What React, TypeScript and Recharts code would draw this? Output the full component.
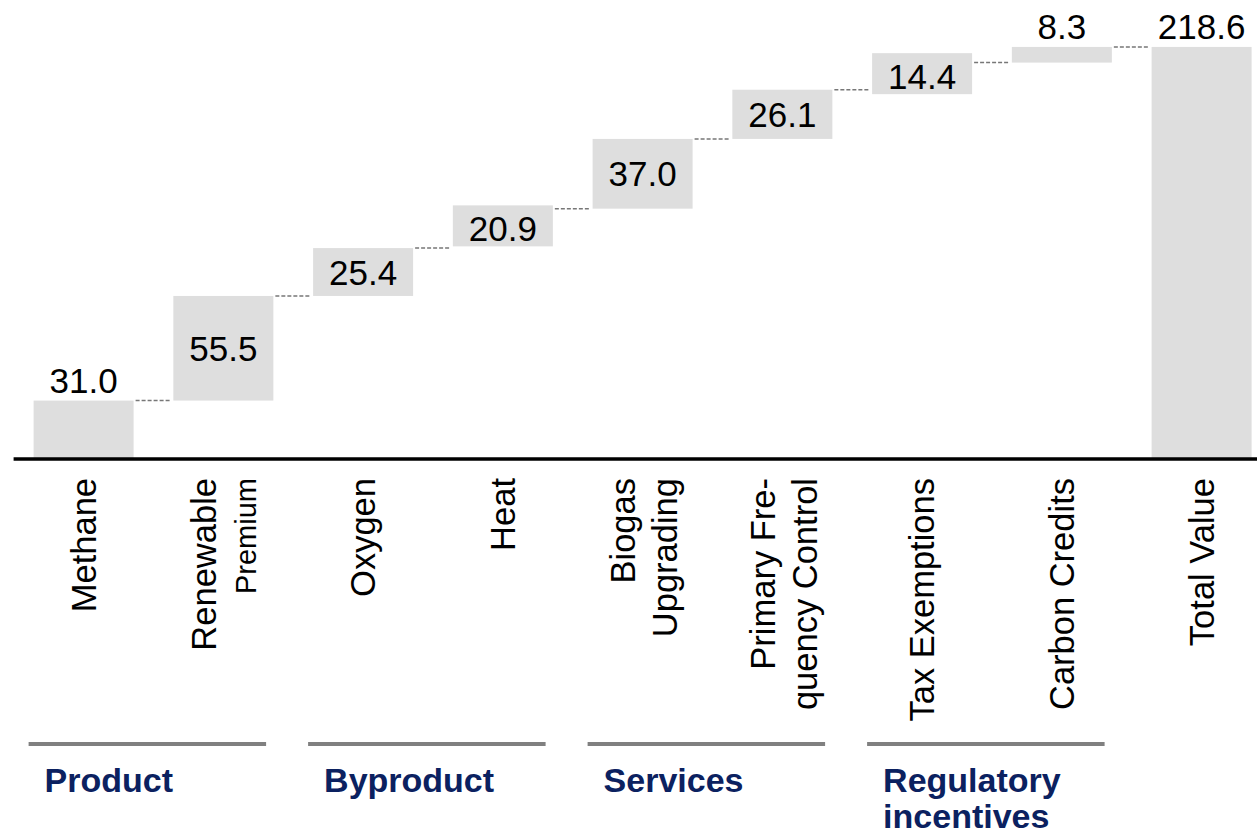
// Waterfall chart — value build-up from methane to total value, drawn with Recharts stacked bars
import React from 'react';
import { BarChart, Bar, XAxis, YAxis, LabelList } from 'recharts';

const categories = [
  'Methane',
  'Renewable Premium',
  'Oxygen',
  'Heat',
  'Biogas Upgrading',
  'Primary Frequency Control',
  'Tax Exemptions',
  'Carbon Credits',
  'Total Value',
];
const values = [31.0, 55.5, 25.4, 20.9, 37.0, 26.1, 14.4, 8.3, 218.6];
const tickLines = [
  ['Methane'],
  ['Renewable', 'Premium'],
  ['Oxygen'],
  ['Heat'],
  ['Biogas', 'Upgrading'],
  ['Primary Fre-', 'quency Control'],
  ['Tax Exemptions'],
  ['Carbon Credits'],
  ['Total Value'],
];
const labelInside = [false, true, true, true, true, true, true, false, false];
const groupNames = [['Product'], ['Byproduct'], ['Services'], ['Regulatory', 'incentives']];

// layout
const W = 1257;
const H = 836;
const CHART_W = 1290;
const PLOT_LEFT = 13.6;
const BAND = 139.75;
const GAP = 20;
const TOP = 6.6;
const AXIS_H = 377;
const FONT = '"Liberation Sans", Arial, Helvetica, sans-serif';
const BAR_FILL = '#dedede';
const NAVY = '#0b2160';

// waterfall: invisible base + visible step, last one is the total from 0
let running = 0;
const chartData = categories.map((name, i) => {
  const isTotal = i === categories.length - 1;
  const base = isTotal ? 0 : running;
  if (!isTotal) running += values[i];
  return { name, base, value: values[i] };
});

const StepShape = (props: any) => {
  const { x, y, width, height, index } = props;
  let top = y;
  let h = height;
  // small steps with the label inside get a little room
  if (labelInside[index] && h < 40) {
    top = y + h / 2 - 23;
    h = 41;
  }
  const last = index === categories.length - 1;
  return (
    <g>
      <rect x={x} y={top} width={width} height={h} fill={BAR_FILL} />
      {!last && (
        <line
          x1={x + width + 2}
          x2={x + width + GAP * 2 - 2}
          y1={y}
          y2={y}
          stroke="#777"
          strokeWidth={1.5}
          strokeDasharray="4 2"
        />
      )}
    </g>
  );
};

const ValueLabel = (props: any) => {
  const { x, y, width, height, value, index } = props;
  const i = index ?? values.indexOf(value);
  const cx = x + width / 2;
  const inside = labelInside[i];
  return (
    <text
      x={cx}
      y={inside ? y + height / 2 : y - 8}
      dy={inside ? '0.36em' : 0}
      textAnchor="middle"
      fontFamily={FONT}
      fontSize={35}
      fill="#000"
    >
      {Number(value).toFixed(1)}
    </text>
  );
};

const CategoryTick = (props: any) => {
  const { x, y, payload } = props;
  const idx = payload.index ?? categories.indexOf(payload.value);
  const lines = tickLines[idx] || [payload.value];
  const top = y + 19;
  const offsets = lines.length === 1 ? [0] : [-20, 22];
  return (
    <g>
      {lines.map((t, k) => {
        const lx = x + offsets[k];
        const small = t === 'Premium';
        return (
          <text
            key={k}
            x={lx}
            y={top}
            dy="0.36em"
            transform={`rotate(-90, ${lx}, ${top})`}
            textAnchor="end"
            fontFamily={FONT}
            fontSize={small ? 29 : 34.5}
            fill="#000"
          >
            {t}
          </text>
        );
      })}
    </g>
  );
};

export default function App() {
  return (
    <div
      style={{
        position: 'absolute',
        left: 0,
        top: 0,
        width: W,
        height: H,
        overflow: 'hidden',
        background: '#fff',
      }}
    >
      <BarChart
        width={CHART_W}
        height={H}
        data={chartData}
        margin={{ top: TOP, right: CHART_W - PLOT_LEFT - BAND * 9, bottom: 0, left: PLOT_LEFT }}
        barCategoryGap={GAP}
      >
        <YAxis hide domain={[0, 240]} />
        <XAxis
          dataKey="name"
          interval={0}
          height={AXIS_H}
          tickLine={false}
          tickSize={0}
          tickMargin={0}
          axisLine={{ stroke: '#000', strokeWidth: 3.5 }}
          tick={<CategoryTick />}
        />
        <Bar dataKey="base" stackId="w" fill="transparent" isAnimationActive={false} />
        <Bar dataKey="value" stackId="w" shape={<StepShape />} isAnimationActive={false}>
          <LabelList dataKey="value" content={<ValueLabel />} />
        </Bar>
      </BarChart>
      <svg
        width={W}
        height={H}
        style={{ position: 'absolute', left: 0, top: 0, pointerEvents: 'none' }}
      >
        {groupNames.map((g, i) => {
          const start = PLOT_LEFT + BAND * 2 * i;
          const end = start + BAND * 2;
          return (
            <g key={i}>
              <line x1={start + 15} x2={end - 27} y1={744} y2={744} stroke="#808080" strokeWidth={4} />
              {g.map((t, k) => (
                <text
                  key={k}
                  x={start + 31}
                  y={792 + k * 36}
                  fontFamily={FONT}
                  fontWeight="bold"
                  fontSize={34}
                  fill={NAVY}
                >
                  {t}
                </text>
              ))}
            </g>
          );
        })}
      </svg>
    </div>
  );
}
